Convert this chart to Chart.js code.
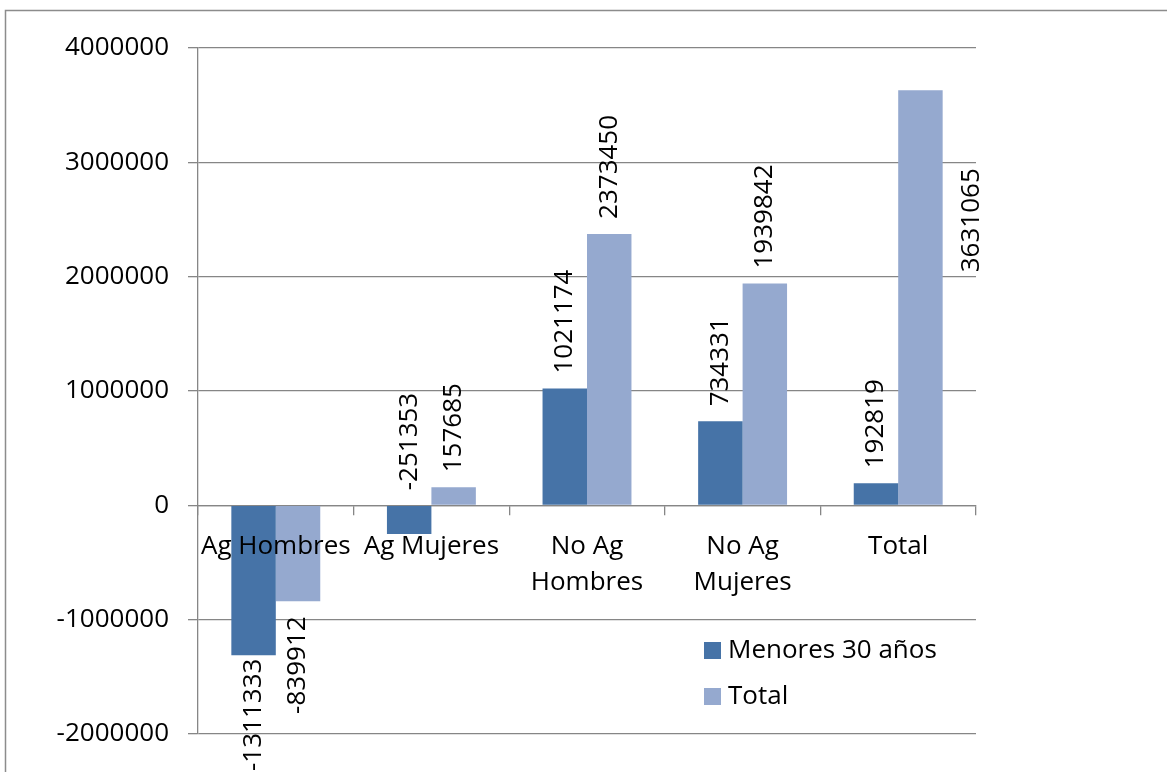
<!DOCTYPE html>
<html>
<head>
<meta charset="utf-8">
<script src="https://cdn.jsdelivr.net/npm/chart.js@4.4.1/dist/chart.umd.min.js"></script>
<style>
  body { margin: 0; background: #fff; }
  canvas { display: block; }
</style>
</head>
<body>
<canvas id="myChart" width="1167" height="772"></canvas>
<script>
const categories = ['Ag Hombres', 'Ag Mujeres', ['No Ag', 'Hombres'], ['No Ag', 'Mujeres'], 'Total'];
const seriesNames = ['Menores 30 años', 'Total'];
const menores30 = [-1311333, -251353, 1021174, 734331, 192819];
const totalVals = [-839912, 157685, 2373450, 1939842, 3631065];
const yTicks = [-2000000, -1000000, 0, 1000000, 2000000, 3000000, 4000000];

// where each value label goes: 'end' = outside the bar end, 'base' = above the zero line, 'side' = right of bar
const labelPlace = [
  ['end', 'base', 'end', 'end', 'end'],
  ['end', 'end', 'end', 'end', 'side']
];

const FONT = '"Open Sans", "Liberation Sans", sans-serif';
const GRID = '#868686';

const labelsPlugin = {
  id: 'valueLabels',
  beforeDraw(chart) {
    const ctx = chart.ctx;
    ctx.save();
    ctx.fillStyle = '#fff';
    ctx.fillRect(0, 0, chart.width, chart.height);
    ctx.strokeStyle = '#8c8c8c';
    ctx.lineWidth = 1.5;
    ctx.beginPath();
    ctx.moveTo(5.5, chart.height);
    ctx.lineTo(5.5, 10.5);
    ctx.lineTo(chart.width, 10.5);
    ctx.stroke();
    ctx.restore();
  },
  afterDatasetsDraw(chart) {
    const ctx = chart.ctx;
    const zeroY = chart.scales.y.getPixelForValue(0);
    const gap = 15;
    ctx.save();
    ctx.font = '26px ' + FONT;
    ctx.fillStyle = '#000';
    ctx.textAlign = 'center';
    ctx.textBaseline = 'middle';
    chart.data.datasets.forEach((ds, di) => {
      chart.getDatasetMeta(di).data.forEach((bar, i) => {
        const v = ds.data[i];
        const txt = String(v);
        const L = ctx.measureText(txt).width;
        const place = labelPlace[di][i];
        let cx = bar.x, cy;
        if (place === 'base') {
          cy = zeroY - gap - L / 2;
        } else if (place === 'side') {
          cx = bar.x + bar.width / 2 + 29;
          cy = bar.y + 78 + L / 2;
        } else if (v >= 0) {
          cy = bar.y - gap - L / 2;
        } else {
          cy = bar.y + gap + L / 2;
          if (cy + L / 2 > chart.height - 1) cy = chart.height - 1 - L / 2;
        }
        ctx.save();
        ctx.translate(cx, cy);
        ctx.rotate(-Math.PI / 2);
        ctx.fillText(txt, 0, 0);
        ctx.restore();
      });
    });
    // legend
    ctx.textAlign = 'left';
    chart.data.datasets.forEach((ds, di) => {
      const y = 642 + di * 46;
      ctx.fillStyle = ds.backgroundColor;
      ctx.fillRect(704, y, 17, 17);
      ctx.fillStyle = '#000';
      ctx.fillText(ds.label, 728, y + 9);
    });
    ctx.restore();
  }
};

const ctx = document.getElementById('myChart').getContext('2d');

const myChart = new Chart(ctx, {
  type: 'bar',
  data: {
    labels: categories,
    datasets: [{
      label: seriesNames[0],
      data: menores30,
      backgroundColor: '#4673A7',
      categoryPercentage: 2 / 3.5,
      barPercentage: 1
    }, {
      label: seriesNames[1],
      data: totalVals,
      backgroundColor: '#95A9CF',
      categoryPercentage: 2 / 3.5,
      barPercentage: 1
    }]
  },
  options: {
    responsive: false,
    animation: false,
    devicePixelRatio: 1,
    layout: { padding: { left: 0, top: 48, right: 191, bottom: 38 } },
    plugins: {
      legend: { display: false },
      tooltip: { enabled: false }
    },
    scales: {
      x: {
        position: { y: 0 },
        grid: { drawOnChartArea: false, offset: true, tickLength: 9, color: GRID, lineWidth: 1.3 },
        border: { color: GRID, width: 1.3 },
        ticks: {
          z: 1,
          autoSkip: false, maxRotation: 0, padding: 14, color: '#000',
          font: { family: FONT, size: 26, lineHeight: 1.38 }
        }
      },
      y: {
        min: -2000000,
        max: 4000000,
        afterFit(scale) { scale.width = 198; },
        afterBuildTicks(scale) { scale.ticks = yTicks.map(v => ({ value: v })); },
        grid: { color: GRID, lineWidth: 1.3, tickLength: 10 },
        border: { color: GRID, width: 1.3 },
        ticks: {
          padding: 19, color: '#000',
          font: { family: FONT, size: 26 },
          callback: v => String(v)
        }
      }
    }
  },
  plugins: [labelsPlugin]
});
</script>
</body>
</html>
